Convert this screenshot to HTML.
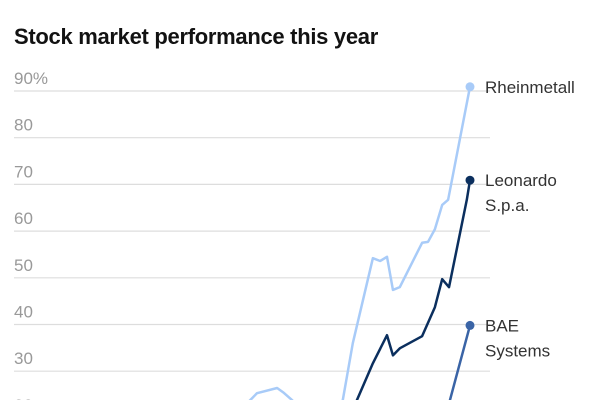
<!DOCTYPE html>
<html><head><meta charset="utf-8"><style>
html,body{margin:0;background:#fff;width:600px;height:400px;overflow:hidden;font-family:"Liberation Sans",sans-serif}
svg{display:block}
</style></head><body>
<svg id="c" width="600" height="400">
<text x="14" y="44" font-size="22" font-weight="bold" fill="#121212" letter-spacing="-0.3">Stock market performance this year</text>
<g id="grid"></g><g id="lines"></g>
</svg>
<script>
const ticks=[90,80,70,60,50,40,30,20];
const tickLabels=["90%","80","70","60","50","40","30","20"];
const rheT=[0,18.9,40.8,49.6,51.8,53.3,57.7,59,61,62.7,69.3,72.1,74.3,78.7,80.3,81.8,83.1,84.6,89.5,90.8,92.3,93.9,95.2,100];
const rheV=[17.4,15.3,19.6,21.7,23.8,25.3,26.4,25.5,23.8,21.7,20.6,23.8,36.0,54.2,53.6,54.5,47.4,48.0,57.5,57.7,60.4,65.6,66.7,90.9];
const leoT=[0,62.7,71.5,75.2,78.7,81.8,83.1,84.6,89.5,92.3,93.9,95.4,99.3,100];
const leoV=[10,15,18,23.8,31.7,37.7,33.4,34.9,37.5,43.7,49.7,48,66.7,70.9];
const baeT=[0,20,93.4,95.6,100];
const baeV=[10,12,15,23.8,39.8];
const X=t=>14+t*4.56, Y=v=>91+(90-v)*4.67;
const ns="http://www.w3.org/2000/svg";
const g=document.getElementById('grid'), L=document.getElementById('lines');
ticks.forEach((v,i)=>{
 const l=document.createElementNS(ns,'line');
 l.setAttribute('x1',14);l.setAttribute('x2',490);l.setAttribute('y1',Y(v));l.setAttribute('y2',Y(v));
 l.setAttribute('stroke','#ddd');l.setAttribute('stroke-width','1.2');
 
 
 g.appendChild(l);
 const t=document.createElementNS(ns,'text');
 t.setAttribute('x',14);t.setAttribute('y',Y(v)-7);t.setAttribute('font-size','17');t.setAttribute('fill','#999');
 t.textContent=tickLabels[i];
 
 
 g.appendChild(t);
});
const series=[
 {T:rheT,V:rheV,c:'#a8cbf8',n:'rheinmetall',lab:['Rheinmetall']},
 {T:leoT,V:leoV,c:'#0b2f5e',n:'leonardo',lab:['Leonardo','S.p.a.']},
 {T:baeT,V:baeV,c:'#3a64a6',n:'bae-systems',lab:['BAE','Systems']}
];
series.forEach(s=>{
 const p=document.createElementNS(ns,'polyline');
 p.setAttribute('points',s.T.map((t,i)=>X(t)+','+Y(s.V[i])).join(' '));
 p.setAttribute('fill','none');p.setAttribute('stroke',s.c);p.setAttribute('stroke-width','2.5');p.setAttribute('stroke-linejoin','round');
 
 
 L.appendChild(p);
 const n=s.T.length-1, cx=X(s.T[n]), cy=Y(s.V[n]);
 const d=document.createElementNS(ns,'circle');
 d.setAttribute('cx',cx);d.setAttribute('cy',cy);d.setAttribute('r',4.5);d.setAttribute('fill',s.c);
 
 
 L.appendChild(d);
 s.lab.forEach((w,k)=>{
  const t=document.createElementNS(ns,'text');
  t.setAttribute('x',485);t.setAttribute('y',cy+6+k*25);t.setAttribute('font-size','17');t.setAttribute('fill','#333');
  t.textContent=w;
  
  
  L.appendChild(t);
 });
});
</script>
</body></html>
